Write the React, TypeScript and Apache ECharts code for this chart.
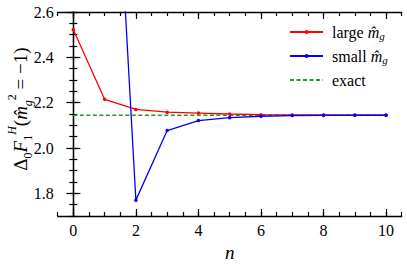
import React, { useEffect, useRef } from "react";
import * as echarts from "echarts";

const nValues = [0, 1, 2, 3, 4, 5, 6, 7, 8, 9, 10];
const largeMg = [2.522, 2.215, 2.17, 2.158, 2.154, 2.15, 2.147, 2.146, 2.1455, 2.145, 2.145];
const smallMg: (number | null)[] = [null, 4.25, 1.77, 2.077, 2.121, 2.134, 2.14, 2.143, 2.144, 2.1445, 2.1445];
const exactValue = 2.1445;
const exactRange = [0, 10];

const xMajorTicks = [0, 2, 4, 6, 8, 10];
const yMajorTicks = [1.8, 2.0, 2.2, 2.4, 2.6];

const FONT = "Liberation Serif, DejaVu Serif, serif";

export default function App() {
  const ref = useRef<HTMLDivElement>(null);
  useEffect(() => {
    if (!ref.current) return;
    const chart = echarts.init(ref.current, null, { renderer: "svg" });
    const axisLine = { show: true, lineStyle: { color: "#000", width: 1.3 } };
    const minorX = (position: "top" | "bottom", labels: boolean) => ({
      type: "value",
      position,
      min: -0.5,
      max: 10.5,
      interval: 0.5,
      axisLine,
      axisTick: { show: true, inside: true, length: 4, lineStyle: { color: "#000", width: 1.2 } },
      axisLabel: labels
        ? {
            show: true,
            customValues: xMajorTicks,
            formatter: (v: number) => String(v),
            fontFamily: FONT,
            color: "#000",
            fontSize: 16,
            margin: 6,
          }
        : { show: false },
      splitLine: { show: false },
      name: labels ? "n" : "",
      nameLocation: "middle",
      nameGap: 27,
      nameTextStyle: { fontFamily: FONT, fontStyle: "italic", fontSize: 19, color: "#000" },
    });
    const majorX = (position: "top" | "bottom") => ({
      type: "value",
      position,
      min: -0.5,
      max: 10.5,
      interval: 0.5,
      axisLine: { show: false },
      axisTick: { show: true, inside: true, length: 7, customValues: xMajorTicks, lineStyle: { color: "#000", width: 1.2 } },
      axisLabel: { show: false },
      splitLine: { show: false },
    });
    const minorY = (position: "left" | "right", labels: boolean) => ({
      type: "value",
      position,
      min: 1.7,
      max: 2.6,
      interval: 0.05,
      axisLine,
      axisTick: { show: true, inside: true, length: 4, lineStyle: { color: "#000", width: 1.2 } },
      axisLabel: labels
        ? {
            show: true,
            customValues: yMajorTicks,
            formatter: (v: number) => v.toFixed(1),
            color: "#000",
            fontFamily: FONT,
            fontSize: 16,
            margin: 4,
          }
        : { show: false },
      splitLine: { show: false },
    });
    const majorY = (position: "left" | "right") => ({
      type: "value",
      position,
      min: 1.7,
      max: 2.6,
      interval: 0.05,
      axisLine: { show: false },
      axisTick: { show: true, inside: true, length: 7, customValues: yMajorTicks, lineStyle: { color: "#000", width: 1.2 } },
      axisLabel: { show: false },
      splitLine: { show: false },
    });

    const legendRich = {
      m: { fontFamily: FONT, fontStyle: "italic", fontSize: 16, color: "#000", lineHeight: 18 },
      g: { fontFamily: FONT, fontStyle: "italic", fontSize: 11, color: "#000", lineHeight: 11, verticalAlign: "bottom" },
    };

    chart.setOption({
      animation: false,
      grid: { left: 57.7, right: 5.3, top: 12, bottom: 44.5, containLabel: false },
      xAxis: [minorX("bottom", true), majorX("bottom"), minorX("top", false), majorX("top")],
      yAxis: [minorY("left", true), majorY("left"), minorY("right", false), majorY("right")],
      legend: {
        orient: "vertical",
        left: 284,
        top: 18,
        itemWidth: 33,
        itemHeight: 5,
        itemGap: 6,
        data: [
          { name: "large" },
          { name: "small" },
          { name: "exact", itemStyle: { color: "rgba(0,0,0,0)", borderWidth: 0 } },
        ],
        formatter: (name: string) =>
          name === "large" ? "large {m|m\u0302}{g|g}" : name === "small" ? "small {m|m\u0302}{g|g}" : "exact",
        textStyle: { fontFamily: FONT, fontSize: 16, color: "#000", lineHeight: 18, padding: [0, 0, 0, 4], rich: legendRich },
      },
      graphic: [
        {
          type: "text",
          x: 20,
          y: 109,
          rotation: Math.PI / 2,
          style: {
            text: "Δ{sub|0}{it|F}{sub|1}{sup|H}({it|m\u0302}{subi|g}{supn|2} = −1)",
            fontFamily: FONT,
            fontSize: 19,
            lineHeight: 28,
            fill: "#000",
            align: "center",
            verticalAlign: "middle",
            rich: {
              it: { fontFamily: FONT, fontStyle: "italic", fontSize: 19, lineHeight: 28 },
              sub: { fontFamily: FONT, fontSize: 12, lineHeight: 12, verticalAlign: "bottom" },
              subi: { fontFamily: FONT, fontStyle: "italic", fontSize: 12, lineHeight: 12, verticalAlign: "bottom" },
              sup: { fontFamily: FONT, fontStyle: "italic", fontSize: 12, lineHeight: 12, verticalAlign: "top" },
              supn: { fontFamily: FONT, fontSize: 12, lineHeight: 12, verticalAlign: "top" },
            },
          },
        },
      ],
      series: [
        {
          name: "exact",
          type: "line",
          data: exactRange.map((n) => [n, exactValue]),
          symbol: "none",
          lineStyle: { color: "#1f9c1f", width: 1.3, type: [4, 2.5] },
          itemStyle: { color: "#1f9c1f" },
          z: 1,
        },
        {
          name: "large",
          type: "line",
          data: nValues.map((n, i) => [n, largeMg[i]]),
          symbol: "circle",
          symbolSize: 3.5,
          lineStyle: { color: "#ff0000", width: 1.3 },
          itemStyle: { color: "#ff0000" },
          z: 3,
        },
        {
          name: "small",
          type: "line",
          data: nValues.map((n, i) => [n, smallMg[i]]),
          symbol: "circle",
          symbolSize: 3.5,
          connectNulls: false,
          lineStyle: { color: "#0000ff", width: 1.3 },
          itemStyle: { color: "#0000ff" },
          clip: true,
          z: 4,
        },
      ],
    });
    return () => chart.dispose();
  }, []);
  return <div ref={ref} style={{ width: 407, height: 267, position: "absolute", left: 0, top: 0, background: "#fff" }} />;
}
